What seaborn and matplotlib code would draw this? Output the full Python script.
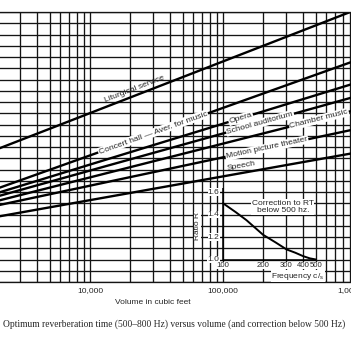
"""
Optimum reverberation time vs room volume, with the low-frequency correction inset.
"""
import numpy as np
import pandas as pd
import matplotlib
matplotlib.use("Agg")
import matplotlib.pyplot as plt
from matplotlib.ticker import LogLocator, NullFormatter, FixedLocator
import seaborn as sns

# reverberation time lines (s), read at both ends of the volume scale (cu ft)
uses = ["Liturgical service", "Concert hall \u2014 Aver. for music", "Opera",
        "School auditorium", "Chamber music", "Motion picture theater", "Speech"]
vol_ends = [2000, 1000000]
rt_liturgical = [1.38, 2.62]
rt_concert = [1.03, 2.17]
rt_opera = [0.99, 1.97]
rt_school = [0.96, 1.85]
rt_chamber = [0.92, 1.73]
rt_motion = [0.88, 1.56]
rt_speech = [0.78, 1.35]

# inset: correction ratio R below 500 Hz
freq = [100, 125, 150, 200, 250, 300, 350, 400, 450, 500]
ratio = [1.50, 1.42, 1.35, 1.22, 1.15, 1.09, 1.06, 1.03, 1.01, 1.00]
freq_ticks = [100, 200, 300, 400, 500]
ratio_ticks = [1.0, 1.2, 1.4, 1.6]

vol_ticks = [10000, 100000, 1000000]
vol_labels = ["10,000", "100,000", "1,000,000"]

sns.set_style("white")
plt.rcParams["font.family"] = ["Liberation Sans", "DejaVu Sans"]

rt_all = [rt_liturgical, rt_concert, rt_opera, rt_school, rt_chamber, rt_motion, rt_speech]
df = pd.DataFrame({
    "use": np.repeat(uses, len(vol_ends)),
    "volume": vol_ends * len(uses),
    "rt": np.concatenate(rt_all),
})

W = 351.0
fig = plt.figure(figsize=(3.51, 3.51), dpi=100)
rect = [-3 / W, 69 / W, 359 / W, 270 / W]
ax = fig.add_axes(rect)
ax.set_xscale("log")
ax.set_xlim(2000, 1e6)
ax.set_ylim(0.2, 2.6)

sns.lineplot(data=df, x="volume", y="rt", hue="use", hue_order=uses,
             palette=["black"] * len(uses), legend=False, lw=1.7, ax=ax)

ax.set_xticks(vol_ticks)
ax.set_xticklabels(vol_labels)
ax.xaxis.set_minor_locator(LogLocator(base=10, subs=range(2, 10)))
ax.xaxis.set_minor_formatter(NullFormatter())
ax.yaxis.set_major_locator(FixedLocator(np.linspace(0.2, 2.6, 25)))
ax.set_yticklabels([])
ax.grid(True, which="both", color="#151515", lw=0.95)
ax.set_axisbelow(True)
ax.tick_params(which="both", length=0, labelsize=6, pad=3.5)
for s in ax.spines.values():
    s.set_color("#151515")
    s.set_linewidth(0.95)
ax.set_xlabel("")
ax.set_ylabel("")

# labels along the lines: (volume position, offset in points, white gap)
placements = [(22500, 4.5, False), (29800, 0, True), (136000, 0, True),
              (190000, 0, True), (527000, 0, True), (214000, 0, True),
              (139000, 5, False)]
lv = np.log10(vol_ends)
for name, rt, (v, off, gap) in zip(uses, rt_all, placements):
    p0, p1 = ax.transData.transform([(vol_ends[0], rt[0]), (vol_ends[1], rt[1])])
    ang = np.degrees(np.arctan2(p1[1] - p0[1], p1[0] - p0[0]))
    y = np.interp(np.log10(v), lv, rt)
    box = dict(fc="white", ec="none", pad=0.6) if gap else None
    ax.annotate(name, (v, y), xytext=(-off * np.sin(np.radians(ang)), off * np.cos(np.radians(ang))),
                textcoords="offset points", rotation=ang, rotation_mode="anchor",
                ha="center", va="center", fontsize=6.1, bbox=box)

# inset drawn on the same grid: 100 Hz sits on 100,000 cu ft, R = 1.0 on a grid line
ax2 = fig.add_axes(rect, facecolor="none")
ax2.set_xscale("log")
ax2.set_xlim(2, 1000)
ax2.set_ylim(0.8, 3.2)
ax2.axis("off")
sns.lineplot(x=freq, y=ratio, color="black", lw=1.4, ax=ax2)
ax2.vlines(freq_ticks[0], ratio_ticks[0], ratio_ticks[-1] + 0.04, color="black", lw=1.1)
ax2.hlines(ratio_ticks[0], freq_ticks[0], freq_ticks[-1], color="black", lw=1.1)
ax2.plot([freq_ticks[0]] * len(ratio_ticks), ratio_ticks, ls="none", marker=0,
         ms=2.5, mew=0.8, color="black")
tb = dict(fc="white", ec="none", pad=0.1)
for r in ratio_ticks:
    ax2.annotate(f"{r:.1f}", (freq_ticks[0], r), xytext=(-2.5, 0), textcoords="offset points",
                 ha="right", va="center", fontsize=6, bbox=tb)
for f in freq_ticks:
    ax2.annotate(str(f), (f, ratio_ticks[0]), xytext=(0, -2), textcoords="offset points",
                 ha="center", va="top", fontsize=5.6, bbox=tb)
ax2.annotate("Ratio R", (freq_ticks[0], 1.3), xytext=(-18.5, 0), textcoords="offset points",
             rotation=90, ha="center", va="center", fontsize=6, bbox=tb)
ax2.text(282, 1.467, "Correction to RT\nbelow 500 hz.", ha="center", va="center",
         fontsize=6, linespacing=1.15, bbox=dict(fc="white", ec="none", pad=0.4))
ax2.text(366, 0.853, "Frequency c/$_\\mathregular{s}$", ha="center", va="center",
         fontsize=6, bbox=dict(fc="white", ec="none", pad=0.4))

fig.text(152.5 / W, 1 - 303 / W, "Volume in cubic feet", ha="center", va="center", fontsize=6)
fig.text(174 / W, 1 - 324 / W,
         "Optimum reverberation time (500\u2013800 Hz) versus volume (and correction below 500 Hz)",
         ha="center", va="center", fontsize=6.85, family=["Liberation Serif", "DejaVu Serif"])

fig.savefig("out.png", dpi=100)
